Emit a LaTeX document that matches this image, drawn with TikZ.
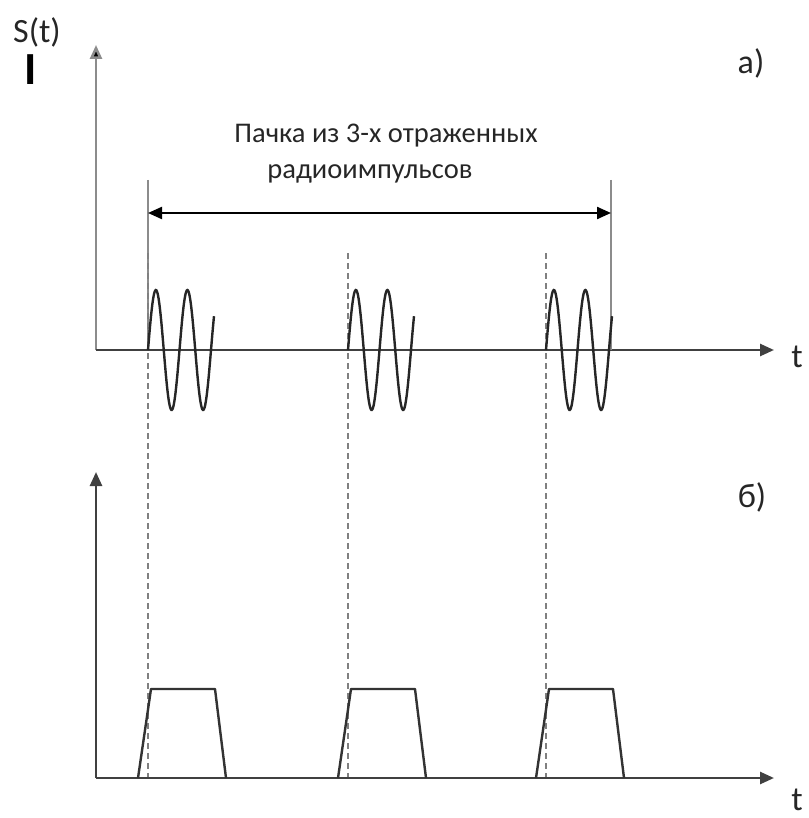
\documentclass[tikz,border=0pt]{standalone}
\usepackage{fontspec}
\setmainfont{Carlito}
\usetikzlibrary{arrows.meta}
\definecolor{axisc}{HTML}{404040}
\definecolor{barc}{HTML}{8C8C8C}
\definecolor{dashc}{HTML}{808080}
\tikzset{
  axis/.style={draw=axisc, line width=2.6pt, -{Triangle[length=14pt,width=12pt]}},
  vaxis/.style={draw=barc, line width=2.6pt, -{Triangle[length=14pt,width=12pt,fill=black]}},
  bar/.style={draw=barc, line width=2.8pt},
  guide/.style={draw=dashc, line width=2.8pt, dash pattern=on 6pt off 4pt},
  wave/.style={draw=black!85, line width=2.4pt},
  pulse/.style={draw=black!80, line width=2.4pt, line join=round},
  span/.style={draw=black, line width=2.2pt, {Triangle[length=14pt,width=12pt]}-{Triangle[length=14pt,width=12pt]}},
  lbl/.style={inner sep=0pt, font=\fontsize{34}{38}\selectfont, text=black!85},
  note/.style={inner sep=0pt, font=\fontsize{28.5}{32}\selectfont, text=black!85}
}
\begin{document}
\begin{tikzpicture}[x=1pt,y=-1pt]
\useasboundingbox (0,0) rectangle (808,818);
% ---------- top diagram ----------
\coordinate (o1) at (96,350);
\coordinate (y1) at (96,45);
\coordinate (x1) at (774,350);
\draw[vaxis] (o1) -- (y1);
\draw[axis] (o1) -- (x1);
\node[lbl] (st) at (37,32) {S(t)};
\node[inner sep=0pt, font=\fontsize{46}{50}\selectfont\bfseries] (cur) at (31,70) {I};
\node[lbl] (t1) at (797,357) {t};
\node[lbl] (a) at (751,63) {а)};
% bars and span arrow
\coordinate (bl) at (148,180);
\coordinate (blb) at (148,350);
\coordinate (br) at (611,180);
\coordinate (brb) at (611,350);
\draw[bar] (bl) -- (blb);
\draw[bar] (br) -- (brb);
\coordinate (sl) at (148,213);
\coordinate (sr) at (611,213);
\draw[span] (sl) -- (sr);
\node[note] (txt1) at (386,136) {Пачка из 3-х отраженных};
\node[note] (txt2) at (370,174) {радиоимпульсов};
% guide lines
\foreach \x/\n in {148/g1,348/g2,546/g3}{
  \coordinate (\n t) at (\x,253);
  \coordinate (\n b) at (\x,778);
  \draw[guide] (\n t) -- (\n b);
}
% wave packets
\foreach \s in {148,348,546}{
  \draw[wave] plot[domain=0:66, samples=120, smooth] ({\s+\x},{350-60*sin(\x/31.5*360)});
}
% ---------- bottom diagram ----------
\coordinate (o2) at (96,778);
\coordinate (y2) at (96,472);
\coordinate (x2) at (774,778);
\draw[axis] (o2) -- (y2);
\draw[axis] (o2) -- (x2);
\node[lbl] (t2) at (797,800) {t};
\node[lbl] (b) at (752,497) {б)};
\foreach \s in {148,348,546}{
  \draw[pulse] (\s-10,778) -- (\s+3,689) -- (\s+67,689) -- (\s+78,778);
}
\end{tikzpicture}
\end{document}
